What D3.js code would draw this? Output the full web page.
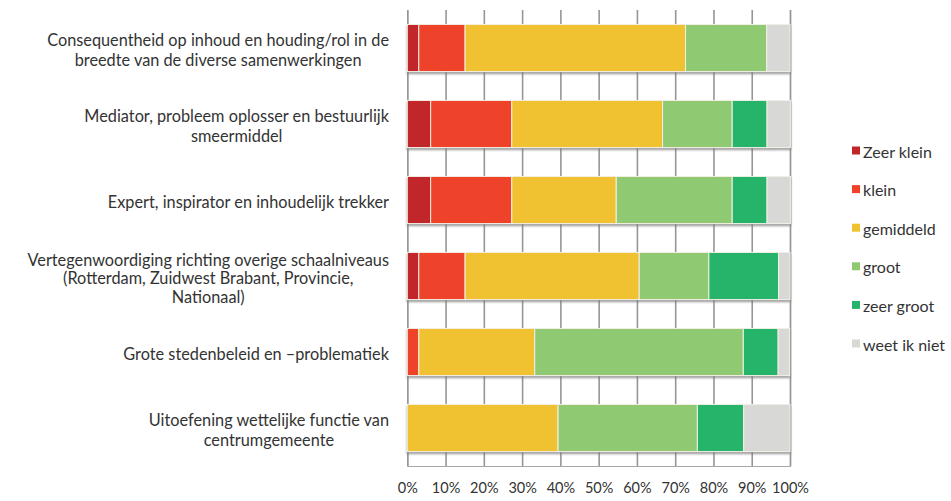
<!DOCTYPE html>
<html>
<head>
<meta charset="utf-8">
<script src="https://cdn.jsdelivr.net/npm/d3@7/dist/d3.min.js"></script>
<style>
  html, body { margin: 0; padding: 0; background: #fff; }
  svg { display: block; }
  text { font-family: Lato, "Open Sans", sans-serif; fill: #333; }
</style>
</head>
<body>
<svg id="chart" width="951" height="501"></svg>
<script>
// Questions (one line per array entry)
const categories = [
  ["Consequentheid op inhoud en houding/rol in de", "breedte van de diverse samenwerkingen"],
  ["Mediator, probleem oplosser en bestuurlijk", "smeermiddel"],
  ["Expert, inspirator en inhoudelijk trekker"],
  ["Vertegenwoordiging richting overige schaalniveaus", "(Rotterdam, Zuidwest Brabant, Provincie,", "Nationaal)"],
  ["Grote stedenbeleid en \u2013problematiek"],
  ["Uitoefening wettelijke functie van", "centrumgemeente"]
];

// Answer categories
const seriesNames = ["Zeer klein", "klein", "gemiddeld", "groot", "zeer groot", "weet ik niet"];
const seriesColors = ["#C1272A", "#EF4229", "#F0C230", "#8FCA72", "#25B46B", "#D8D8D6"];

// Share of answers per question (%)
const zeerKlein  = [3.0, 6.1, 6.1, 3.0, 0.0, 0.0];
const klein      = [12.1, 21.2, 21.2, 12.1, 3.0, 0.0];
const gemiddeld  = [57.6, 39.4, 27.3, 45.5, 30.3, 39.4];
const groot      = [21.2, 18.2, 30.3, 18.2, 54.5, 36.4];
const zeerGroot  = [0.0, 9.1, 9.1, 18.2, 9.1, 12.1];
const weetIkNiet = [6.1, 6.1, 6.1, 3.0, 3.0, 12.1];

const tickValues = [0, 10, 20, 30, 40, 50, 60, 70, 80, 90, 100];

const seriesValues = [zeerKlein, klein, gemiddeld, groot, zeerGroot, weetIkNiet];
const rows = categories.map((c, i) => {
  const r = { key: i };
  seriesNames.forEach((s, j) => { r[s] = seriesValues[j][i]; });
  return r;
});

const svg = d3.select("#chart");
const plotTop = 10, plotBottom = 466, plotLeft = 407.3, plotRight = 790;

const x = d3.scaleLinear().domain([0, 100]).range([plotLeft, plotRight]);
const y = d3.scaleBand().domain(rows.map(r => r.key))
  .range([plotTop, plotBottom]).paddingInner(0.38).paddingOuter(0.19);

// soft shadow under each bar
const defs = svg.append("defs");
const f = defs.append("filter").attr("id", "barShadow")
  .attr("x", "-5%").attr("y", "-20%").attr("width", "110%").attr("height", "150%");
f.append("feDropShadow").attr("dx", 0).attr("dy", 2).attr("stdDeviation", 1.3)
  .attr("flood-color", "#777").attr("flood-opacity", 0.75);

// vertical gridlines + tick labels
const xAxis = d3.axisBottom(x).tickValues(tickValues)
  .tickFormat(d => d + "%").tickSize(-(plotBottom - plotTop)).tickPadding(17);
const gx = svg.append("g").attr("transform", `translate(0,${plotBottom})`).call(xAxis);
gx.select(".domain").attr("stroke", "#a8a8a8").attr("stroke-width", 1.2);
gx.selectAll(".tick line").attr("stroke", "#969696").attr("stroke-width", 1.6);
gx.selectAll(".tick text").attr("font-size", 14.5).attr("fill", "#333")
  .style("font-family", "Lato, 'Open Sans', sans-serif");

// stacked bars
const stack = d3.stack().keys(seriesNames);
const layers = stack(rows);

const barGroups = svg.append("g").selectAll("g.bar")
  .data(rows).join("g").attr("class", "bar")
  .attr("filter", "url(#barShadow)");

barGroups.each(function(row, i) {
  d3.select(this).selectAll("rect")
    .data(layers.map((L, j) => ({ s: j, d: L[i] })).filter(o => o.d[1] - o.d[0] > 0))
    .join("rect")
    .attr("x", o => x(o.d[0]))
    .attr("y", y(row.key))
    .attr("width", o => x(o.d[1]) - x(o.d[0]))
    .attr("height", y.bandwidth())
    .attr("fill", o => seriesColors[o.s])
    .attr("stroke", "#f3f0e6")
    .attr("stroke-width", 1);
});

// category labels: block right-aligned, lines centred within block
const labelRight = 389;
const lg = svg.append("g");
categories.forEach((lines, i) => {
  const cy = y(i) + y.bandwidth() / 2 + 2.5;
  const lineH = lines.length === 3 ? 18.5 : 19.5;
  const g = lg.append("g");
  const texts = lines.map((ln, k) => g.append("text")
    .attr("font-size", 16.3)
    .attr("text-anchor", "middle")
    .attr("dy", "0.35em")
    .attr("y", cy + (k - (lines.length - 1) / 2) * lineH)
    .text(ln));
  const maxW = d3.max(texts, t => t.node().getComputedTextLength());
  texts.forEach(t => t.attr("x", labelRight - maxW / 2));
});

// legend
const legend = svg.append("g").attr("transform", "translate(852,152.5)");
seriesNames.forEach((s, j) => {
  const g = legend.append("g").attr("transform", `translate(0,${j * 38.6})`);
  g.append("rect").attr("x", 0).attr("y", -6).attr("width", 8).attr("height", 8)
    .attr("fill", seriesColors[j]);
  g.append("text").attr("x", 11).attr("dy", "0.32em").attr("font-size", 16).text(s);
});
</script>
</body>
</html>
